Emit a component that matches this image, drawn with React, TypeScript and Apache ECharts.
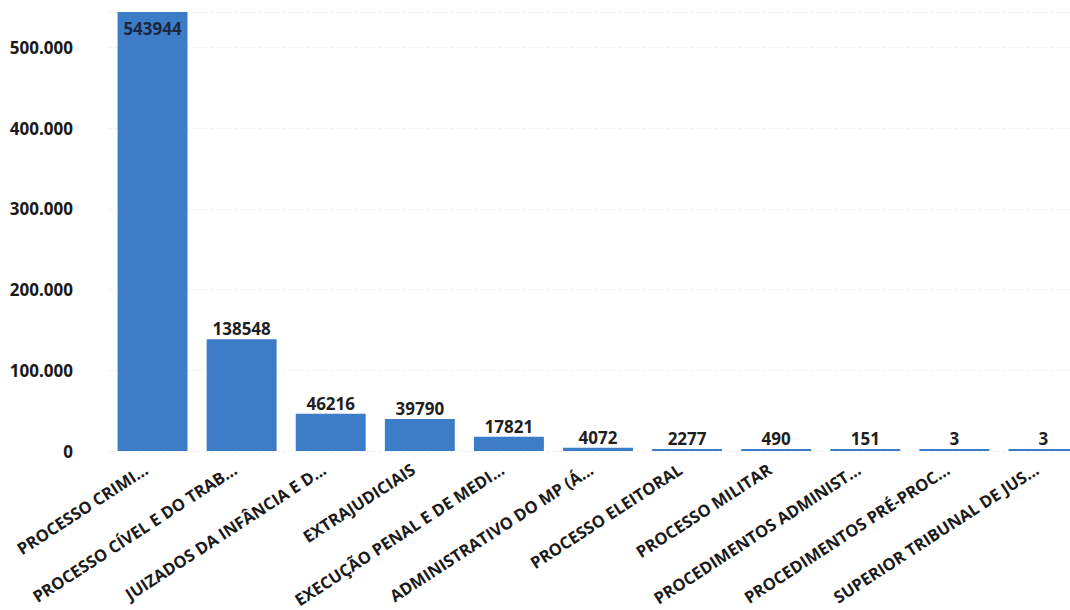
import React, { useEffect, useRef } from "react";
import * as echarts from "echarts";

const categories = [
  "PROCESSO CRIMI...",
  "PROCESSO CÍVEL E DO TRAB...",
  "JUIZADOS DA INFÂNCIA E D...",
  "EXTRAJUDICIAIS",
  "EXECUÇÃO PENAL E DE MEDI...",
  "ADMINISTRATIVO DO MP (Á...",
  "PROCESSO ELEITORAL",
  "PROCESSO MILITAR",
  "PROCEDIMENTOS ADMINIST...",
  "PROCEDIMENTOS PRÉ-PROC...",
  "SUPERIOR TRIBUNAL DE JUS...",
];

const values = [543944, 138548, 46216, 39790, 17821, 4072, 2277, 490, 151, 3, 3];

const yTickValues = [0, 100000, 200000, 300000, 400000, 500000];

const FONT = "'Open Sans', 'Noto Sans', sans-serif";

export default function App() {
  const ref = useRef<HTMLDivElement>(null);
  useEffect(() => {
    if (!ref.current) return;
    const chart = echarts.init(ref.current, null, { renderer: "svg" });
    const maxVal = Math.max(...values);
    chart.setOption({
      animation: false,
      backgroundColor: "#ffffff",
      grid: { left: 108, right: 0, top: 12, bottom: 158, containLabel: false },
      xAxis: {
        type: "category",
        data: categories,
        axisLine: { show: false },
        axisTick: { show: false },
        axisLabel: {
          interval: 0,
          rotate: 33,
          margin: 12,
          padding: [0, 8, 0, 0],
          fontFamily: FONT,
          fontWeight: "bold",
          fontSize: 16.5,
          color: "#1a1a1a",
        },
      },
      yAxis: {
        type: "value",
        min: 0,
        max: maxVal,
        interval: 100000,
        axisLine: { show: false },
        axisTick: { show: false },
        splitLine: { show: true, lineStyle: { color: "#f3f3f3", type: "dashed", width: 1 } },
        axisLabel: {
          margin: 35,
          fontFamily: FONT,
          fontWeight: "bold",
          fontSize: 17,
          color: "#1a1a1a",
          showMaxLabel: false,
          formatter: (v: number) =>
            yTickValues.includes(v) ? v.toLocaleString("de-DE") : "",
        },
      },
      series: [
        {
          type: "bar",
          data: values.map((v, i) =>
            i === 0
              ? { value: v, label: { position: "insideTop", distance: 8, color: "#1b2740" } }
              : v
          ),
          barCategoryGap: "21.5%",
          barMinHeight: 2,
          itemStyle: { color: "#3d7dc8" },
          label: {
            show: true,
            position: "top",
            distance: 2,
            fontFamily: FONT,
            fontWeight: "bold",
            fontSize: 17,
            color: "#1f1f1f",
          },
        },
      ],
    });
    return () => chart.dispose();
  }, []);
  return (
    <div
      style={{
        position: "fixed",
        left: 0,
        top: 0,
        width: 1070,
        height: 610,
        overflow: "hidden",
        background: "#fff",
      }}
    >
      <div ref={ref} style={{ width: 1088, height: 610 }} />
    </div>
  );
}
